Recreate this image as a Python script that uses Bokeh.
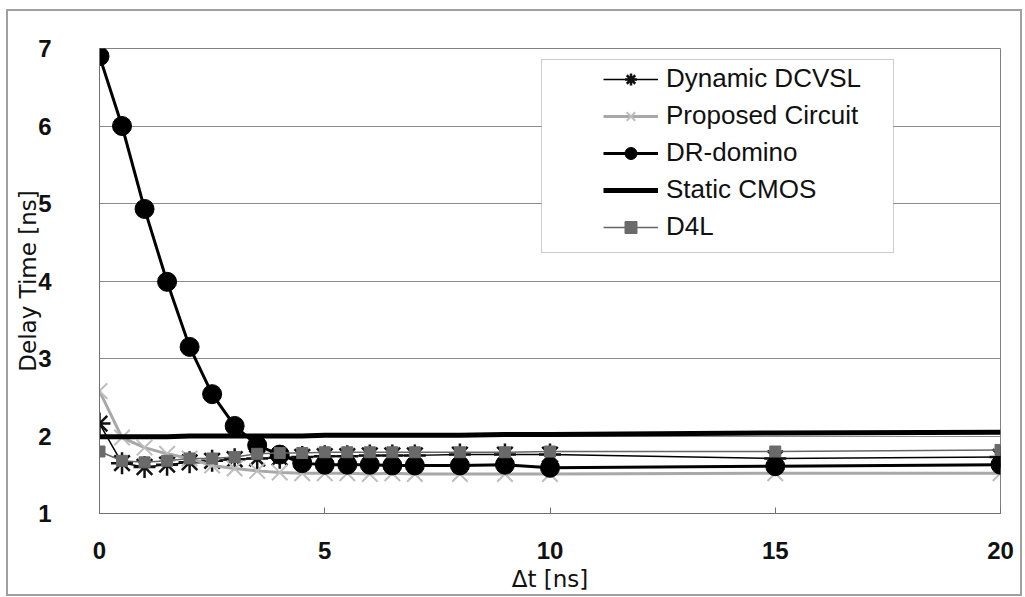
from bokeh.plotting import figure
from bokeh.models import Range1d, FixedTicker, Legend, LegendItem, BoxAnnotation
from bokeh.embed import file_html
from bokeh.resources import INLINE

# ---- data ----
dt = [0, 0.5, 1, 1.5, 2, 2.5, 3, 3.5, 4, 4.5, 5, 5.5, 6, 6.5, 7, 8, 9, 10, 15, 20]
dynamic_dcvsl = [2.16, 1.65, 1.60, 1.63, 1.66, 1.68, 1.70, 1.71, 1.72, 1.73, 1.74, 1.74, 1.75, 1.75, 1.75, 1.76, 1.76, 1.76, 1.71, 1.73]
proposed = [2.58, 1.98, 1.85, 1.77, 1.71, 1.62, 1.58, 1.55, 1.53, 1.52, 1.52, 1.52, 1.51, 1.52, 1.51, 1.51, 1.51, 1.51, 1.52, 1.52]
dr_domino = [6.90, 6.00, 4.93, 3.99, 3.15, 2.54, 2.13, 1.88, 1.76, 1.65, 1.63, 1.63, 1.63, 1.62, 1.62, 1.62, 1.63, 1.59, 1.61, 1.63]
static_cmos = [1.99, 1.99, 1.99, 1.99, 2.00, 2.00, 2.00, 2.00, 2.00, 2.00, 2.01, 2.01, 2.01, 2.01, 2.01, 2.01, 2.02, 2.02, 2.04, 2.05]
d4l = [1.80, 1.68, 1.66, 1.68, 1.71, 1.71, 1.73, 1.77, 1.78, 1.78, 1.79, 1.79, 1.79, 1.79, 1.79, 1.79, 1.79, 1.80, 1.80, 1.82]

x_ticks = [0, 5, 10, 15, 20]
y_ticks = [1, 2, 3, 4, 5, 6, 7]
labels = ["Dynamic DCVSL", "Proposed Circuit", "DR-domino", "Static CMOS", "D4L"]

TICK_FONT = "'Liberation Sans', Arial, sans-serif"
TEXT_FONT = "'Liberation Sans', Arial, sans-serif"
TITLE_FONT = "'DejaVu Sans', sans-serif"

p = figure(width=1025, height=597, x_range=Range1d(0, 20), y_range=Range1d(1, 7),
           output_backend="svg", toolbar_location=None,
           min_border_left=99, min_border_right=25, min_border_top=48, min_border_bottom=84)
p.background_fill_color = "white"
p.border_fill_alpha = 0
p.outline_line_color = "#808080"
p.outline_line_width = 1

# outer chart border drawn as CSS background behind the transparent canvas border area
G = "linear-gradient(#a0a0a0, #a0a0a0)"
p.styles = {
    "background": (f"{G} 6px 9px / 1016px 2px no-repeat, "
                   f"{G} 6px 594px / 1016px 2px no-repeat, "
                   f"{G} 6px 9px / 2px 587px no-repeat, "
                   f"{G} 1020px 9px / 2px 587px no-repeat, white"),
}

# axes
p.xaxis.ticker = FixedTicker(ticks=x_ticks)
p.yaxis.ticker = FixedTicker(ticks=y_ticks)
for ax in (p.xaxis[0], p.yaxis[0]):
    ax.axis_line_color = "#707070"
    ax.axis_line_width = 1
    ax.minor_tick_line_color = None
    ax.major_label_text_font = TICK_FONT
    ax.major_label_text_font_size = "24px"
    ax.major_label_text_font_style = "bold"
    ax.major_label_text_color = "#111111"
    ax.axis_label_text_font = TITLE_FONT
    ax.axis_label_text_font_style = "normal"
    ax.axis_label_text_color = "#111111"
p.xaxis.major_tick_in = 6
p.xaxis.major_tick_out = 0
p.xaxis.major_tick_line_color = "#707070"
p.yaxis.major_tick_in = 0
p.yaxis.major_tick_out = 0
p.xaxis.major_label_standoff = 28
p.yaxis.major_label_standoff = 48
p.xaxis.axis_label = "\u0394t [ns]"
p.xaxis.axis_label_text_font_size = "23px"
p.xaxis.axis_label_standoff = 4
p.yaxis.axis_label = "Delay Time [ns]"
p.yaxis.axis_label_text_font_size = "23px"
p.yaxis.axis_label_standoff = -6

p.xgrid.grid_line_color = None
p.ygrid.grid_line_color = "#8a8a8a"
p.ygrid.grid_line_width = 1

# series (Excel draw order)
r1l = p.line(dt, dynamic_dcvsl, line_color="black", line_width=1.5)
r1m = p.scatter(dt, dynamic_dcvsl, marker="asterisk", size=22, line_color="#111111", line_width=2.5)
r2l = p.line(dt, proposed, line_color="#a8a8a8", line_width=3)
r2m = p.scatter(dt, proposed, marker="x", size=22, line_color="#bdbdbd", line_width=2)
r3l = p.line(dt, dr_domino, line_color="black", line_width=3)
r3m = p.scatter(dt, dr_domino, marker="circle", size=19, fill_color="black", line_color="black")
r4l = p.line(dt, static_cmos, line_color="black", line_width=5)
r5l = p.line(dt, d4l, line_color="#666666", line_width=1.5)
r5m = p.scatter(dt, d4l, marker="square", size=11, fill_color="#6a6a6a", line_color="#6a6a6a")

# legend frame (white box with border)
p.add_layout(BoxAnnotation(left=541, right=893, top=59, bottom=252,
                           left_units="canvas", right_units="canvas",
                           top_units="canvas", bottom_units="canvas",
                           fill_color="white", fill_alpha=1, line_color="#555555", line_width=1))

legend = Legend(items=[
    LegendItem(label=labels[0], renderers=[r1l, r1m]),
    LegendItem(label=labels[1], renderers=[r2l, r2m]),
    LegendItem(label=labels[2], renderers=[r3l, r3m]),
    LegendItem(label=labels[3], renderers=[r4l]),
    LegendItem(label=labels[4], renderers=[r5l, r5m]),
], location=(494, 261))
legend.label_text_font = TEXT_FONT
legend.label_text_font_size = "26px"
legend.label_text_color = "#111111"
legend.glyph_width = 55
legend.glyph_height = 30
legend.label_height = 30
legend.label_standoff = 8
legend.spacing = 6
legend.padding = 10
legend.margin = 0
legend.border_line_alpha = 0
legend.background_fill_alpha = 0
p.add_layout(legend, "center")

open("out.html", "w").write(file_html(p, INLINE))
